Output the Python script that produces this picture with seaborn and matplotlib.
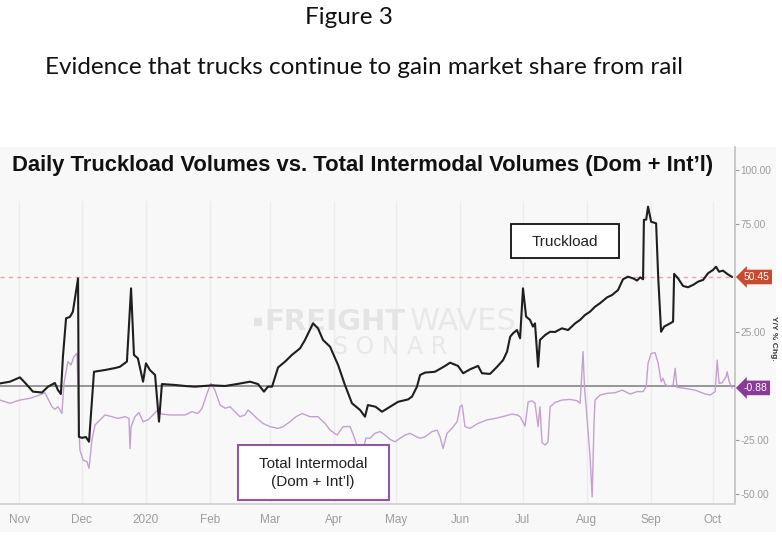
import pandas as pd
import seaborn as sns
import matplotlib.pyplot as plt
import matplotlib.patches as mpatches
import matplotlib.transforms as mtrans

# --- Data (days counted from 2019-11-01, values are Y/Y % change) ---
START = pd.Timestamp("2019-11-01")

truck_days = [-9.4, -4.6, 0.2, 2.7, 6.5, 10.9, 13.8, 17.1, 18.6, 20.0, 21.0, 22.5,
              24.4, 25.8, 28.3, 28.7, 30.2, 32.1, 33.6, 36.0, 41.3, 46.1, 48.5, 51.9,
              53.9, 55.3, 57.2, 59.7, 61.1, 63.0, 65.5, 67.4, 68.8, 75.0, 80.0, 84.8,
              93.0, 99.3, 105.0, 111.4, 115.2, 118.1, 120.0, 122.0, 124.9, 128.3, 131.6,
              135.5, 137.9, 141.8, 144.2, 146.6, 150.0, 153.9, 157.2, 160.6, 164.5, 166.9,
              168.3, 172.0, 175.1, 179.0, 182.9, 187.7, 189.6, 192.0, 193.5, 195.9, 200.7,
              205.6, 208.0, 211.8, 214.3, 217.6, 221.5, 223.4, 227.3, 230.7, 233.6, 235.5,
              237.0, 238.4, 240.3, 241.8, 243.2, 244.7, 246.6, 248.0, 249.0, 250.5, 251.4,
              253.9, 256.3, 258.7, 262.0, 265.0, 268.4, 270.8, 273.2, 275.6, 278.0, 280.4,
              283.8, 286.2, 289.1, 291.5, 293.9, 296.4, 298.3, 299.8, 301.2, 301.6, 302.7,
              303.6, 305.1, 307.5, 308.5, 309.9, 311.4, 314.3, 315.7, 316.2, 318.1, 320.5,
              322.9, 325.4, 327.8, 330.2, 332.6, 335.0, 336.4, 337.9, 339.8, 341.8, 344.2]
truck_yoy = [1.2, 2.0, 4.0, 1.5, -2.6, -3.0, -0.3, 1.4, -1.9, -3.7, 13.6, 31.3,
             32.0, 34.4, 49.8, -23.5, -24.0, -23.6, -25.8, 6.6, 7.4, 8.3, 8.9, 11.3,
             45.2, 14.4, 12.8, 2.0, 10.5, 7.4, 5.1, -16.5, 0.9, 0.5, 0.0, -0.3,
             0.3, 0.0, 0.9, 2.0, 0.9, -2.6, -0.3, -0.3, 8.6, 11.3, 14.4,
             17.4, 21.3, 29.0, 26.7, 21.3, 18.2, 9.7, 0.5, -8.0, -11.1, -14.2,
             -8.8, -9.6, -11.9, -9.6, -7.3, -6.2, -4.9, -0.3, 5.1, 6.2, 6.6,
             9.3, 10.8, 9.3, 5.9, 7.7, 9.3, 5.9, 5.6, 8.9, 12.0, 15.9,
             22.8, 24.4, 25.9, 22.1, 45.2, 32.1, 30.6, 27.5, 29.0, 8.9, 21.3,
             23.6, 25.1, 25.0, 26.7, 25.9, 29.0, 30.6, 32.9, 34.4, 36.7, 38.3,
             41.0, 42.1, 44.4, 49.4, 50.6, 49.8, 48.8, 50.3, 49.4, 76.9, 77.0,
             83.0, 76.0, 75.3, 50.6, 25.1, 27.5, 29.0, 29.8, 51.9, 49.8, 46.3,
             45.7, 46.8, 48.3, 49.1, 52.2, 53.7, 55.2, 52.9, 53.4, 51.9, 50.45]

inter_days = [-9.4, -4.6, 0.2, 5.1, 8.5, 12.3, 15.7, 17.1, 18.6, 20.5, 21.5, 23.4,
              24.9, 26.3, 27.8, 28.7, 29.2, 30.7, 32.6, 33.6, 35.0, 36.5, 38.9, 41.3,
              44.7, 47.6, 51.0, 52.9, 53.4, 53.9, 55.8, 57.7, 59.7, 62.1, 64.5, 66.4,
              68.8, 72.7, 77.5, 80.0, 83.3, 86.2, 88.2, 90.6, 92.5, 94.4, 96.9, 99.3,
              101.7, 104.1, 106.5, 108.9, 110.4, 112.3, 114.7, 117.6, 121.0, 124.9, 127.3,
              130.7, 133.6, 136.5, 140.3, 144.2, 147.6, 150.0, 153.4, 156.3, 159.7, 161.6,
              163.5, 165.5, 167.4, 169.3, 171.7, 174.2, 176.6, 179.0, 181.4, 183.8, 186.2,
              188.6, 191.0, 193.5, 195.9, 199.3, 201.7, 203.1, 204.6, 206.5, 208.9, 211.4,
              212.8, 213.8, 215.2, 217.6, 221.5, 225.8, 229.7, 234.5, 237.9, 240.3, 241.8,
              244.2, 245.7, 247.6, 249.0, 250.5, 251.4, 252.4, 253.9, 255.3, 256.3, 258.7,
              262.0, 265.9, 269.3, 270.8, 271.7, 272.2, 272.9, 273.7, 275.6, 276.6, 277.5,
              278.0, 280.4, 283.8, 287.7, 291.1, 295.0, 298.3, 301.2, 302.7, 303.6, 305.1,
              307.0, 308.5, 309.9, 310.9, 311.8, 313.3, 315.7, 316.7, 317.6, 321.5, 326.3,
              331.2, 333.6, 336.0, 337.0, 337.9, 339.4, 341.3, 341.8, 342.8, 344.2]
inter_yoy = [-6.5, -8.0, -6.5, -5.7, -4.6, -3.1, -9.6, -10.8, -9.6, -12.7, 1.2, 11.3,
             9.7, 13.6, 15.1, -18.0, -29.6, -34.3, -35.0, -38.1, -25.0, -18.0, -15.7, -13.4,
             -14.2, -15.0, -14.2, -15.0, -28.9, -18.8, -14.2, -12.3, -16.5, -15.7, -13.4, -11.4,
             -13.0, -13.4, -13.4, -13.4, -11.9, -12.7, -10.3, -3.4, 1.2, -1.9, -8.8, -10.3,
             -9.6, -11.9, -14.2, -13.4, -11.1, -12.7, -15.0, -17.3, -18.8, -19.6, -18.8,
             -16.5, -14.2, -12.7, -14.2, -14.2, -17.3, -20.4, -22.7, -18.8, -18.8, -23.5,
             -28.9, -31.0, -24.0, -24.2, -21.9, -21.1, -22.7, -24.7, -25.8, -24.2, -22.7,
             -21.9, -23.1, -24.2, -23.5, -21.1, -20.4, -23.5, -28.9, -21.9, -19.6, -16.5,
             -9.6, -8.8, -18.8, -19.6, -17.3, -15.7, -15.0, -13.9, -13.0, -13.4, -14.2,
             -18.5, -7.3, -6.9, -8.0, -18.8, -9.6, -26.2, -27.3, -25.8, -9.6, -7.6,
             -6.5, -6.2, -6.8, -8.0, 7.4, 15.9, -0.3, -9.6, -32.7, -51.3, -17.3,
             -6.5, -4.2, -3.4, -3.1, -1.9, -3.7, -2.6, -2.6, -0.3, 10.5, 15.1,
             15.4, 10.5, 2.0, 3.5, 0.9, -0.3, 0.5, 8.2, -0.6, -1.1, -1.9,
             -3.7, -4.2, -2.6, 12.0, 1.2, 1.5, 4.3, 6.6, 2.0, -0.88]

tick_months = ["2019-11-01", "2019-12-01", "2020-01-01", "2020-02-01", "2020-03-01",
               "2020-04-01", "2020-05-01", "2020-06-01", "2020-07-01", "2020-08-01",
               "2020-09-01", "2020-10-01"]
tick_labels = ["Nov", "Dec", "2020", "Feb", "Mar", "Apr", "May", "Jun", "Jul", "Aug", "Sep", "Oct"]
ytick_vals = [100, 75, 25, -25, -50]
truck_last = 50.45
inter_last = -0.88

# --- Layout helpers (pixel -> figure fraction) ---
W, H = 782, 538
def fx(px):
    return px / W
def fy(py):
    return 1 - py / H

sns.set_theme(style="white")
plt.rcParams["font.family"] = ["Liberation Sans", "DejaVu Sans"]

fig = plt.figure(figsize=(W / 100, H / 100), dpi=100)
fig.patch.set_facecolor("white")

panel = "#f8f8f8"
fig.patches.append(mpatches.Rectangle((0, fy(532)), fx(776), fy(147) - fy(532),
                                      transform=fig.transFigure, facecolor=panel,
                                      edgecolor="none", zorder=-5))

ax = fig.add_axes([0, fy(504), fx(735), fy(147) - fy(504)])
ax.set_facecolor(panel)

truck = pd.DataFrame({"date": START + pd.to_timedelta(truck_days, unit="D"), "yoy": truck_yoy})
inter = pd.DataFrame({"date": START + pd.to_timedelta(inter_days, unit="D"), "yoy": inter_yoy})

ticks = pd.to_datetime(tick_months)
for t in ticks:
    ax.axvline(t, ymax=0.85, color="#ededed", lw=1.0, zorder=1)

ax.axhline(truck_last, color="#e8a9a3", lw=1.0, ls=(0, (3, 3)), zorder=2)
ax.axhline(0, color="#7c7c7c", lw=1.1, zorder=3)

# watermark (behind the lines)
ax.text(fx(253), fy(322), "\u25A0", transform=fig.transFigure, fontsize=12,
        color="#e4e4e4", ha="left", va="center", zorder=1.5)
ax.text(fx(264), fy(322), "FREIGHT", transform=fig.transFigure, fontsize=21,
        fontweight="bold", color="#e4e4e4", family="DejaVu Sans",
        ha="left", va="center", zorder=1.5)
ax.text(fx(410), fy(322), "WAVES", transform=fig.transFigure, fontsize=22,
        color="#e8e8e8", family="DejaVu Sans", ha="left", va="center", zorder=1.5)
ax.text(fx(390), fy(347), "S O N A R", transform=fig.transFigure, fontsize=17,
        color="#e8e8e8", family="DejaVu Sans", ha="center", va="center", zorder=1.5)

sns.lineplot(data=inter, x="date", y="yoy", color="#c4a0cf", linewidth=1.0,
             estimator=None, ax=ax, zorder=4)
sns.lineplot(data=truck, x="date", y="yoy", color="#1e1e1e", linewidth=1.5,
             estimator=None, ax=ax, zorder=5)

ax.set_xlim(START + pd.Timedelta(days=-9.4), START + pd.Timedelta(days=345.6))
ax.set_ylim(-54.6, 110.6)
ax.set_xlabel("")
ax.set_ylabel("")

for side in ["top", "left"]:
    ax.spines[side].set_visible(False)
ax.spines["right"].set_color("#c4c4c4")
ax.spines["bottom"].set_color("#cfcfcf")

ax.yaxis.tick_right()
ax.set_yticks(ytick_vals)
ax.set_yticklabels([f"{v:.2f}" for v in ytick_vals])
ax.set_xticks(ticks)
ax.set_xticklabels(tick_labels)
ax.tick_params(axis="both", colors="#9c9c9c", length=3, width=0.8)
ax.tick_params(axis="x", labelsize=8.5, pad=4)
ax.tick_params(axis="y", labelsize=7.3, pad=1)

# last-value badges
trans = mtrans.blended_transform_factory(ax.transAxes, ax.transData)
ax.text(1.012, truck_last, f"{truck_last:.2f}", transform=trans, ha="left", va="center",
        color="white", fontsize=7.5, clip_on=False, zorder=6,
        bbox=dict(boxstyle="larrow,pad=0.22", fc="#c84a2f", ec="none"))
ax.text(1.012, inter_last, f"{inter_last:.2f}", transform=trans, ha="left", va="center",
        color="white", fontsize=7.5, clip_on=False, zorder=6,
        bbox=dict(boxstyle="larrow,pad=0.22", fc="#8a3b97", ec="none"))

fig.text(fx(774), fy(338), "Y/Y % Chg.", rotation=270, ha="center", va="center",
         fontsize=6, fontweight="bold", color="#333333")

# chart title
fig.text(fx(12), fy(165), "Daily Truckload Volumes vs. Total Intermodal Volumes (Dom + Int\u2019l)",
         fontsize=15.8, fontweight="bold", color="#111111", ha="left", va="center")

# document caption
fig.text(fx(349), fy(18), "Figure 3", fontsize=17.5, family=["Lato", "DejaVu Sans"],
         color="#111111", ha="center", va="center")
fig.text(fx(364), fy(68), "Evidence that trucks continue to gain market share from rail",
         fontsize=17.5, family=["Lato", "DejaVu Sans"], color="#111111", ha="center", va="center")

# callout boxes
fig.patches.append(mpatches.Rectangle((fx(511), fy(258)), fx(108), fy(224) - fy(258),
                                      transform=fig.transFigure, facecolor="white",
                                      edgecolor="#111111", lw=1.3, zorder=7))
fig.text(fx(565), fy(242), "Truckload", fontsize=11, color="#222222",
         ha="center", va="center", zorder=8)
fig.patches.append(mpatches.Rectangle((fx(238), fy(500)), fx(151), fy(445) - fy(500),
                                      transform=fig.transFigure, facecolor="white",
                                      edgecolor="#8e5a9c", lw=1.5, zorder=7))
fig.text(fx(313), fy(473), "Total Intermodal\n(Dom + Int\u2019l)", fontsize=11, color="#222222",
         ha="center", va="center", linespacing=1.3, zorder=8)

fig.savefig("out.png", dpi=100, facecolor="white")
